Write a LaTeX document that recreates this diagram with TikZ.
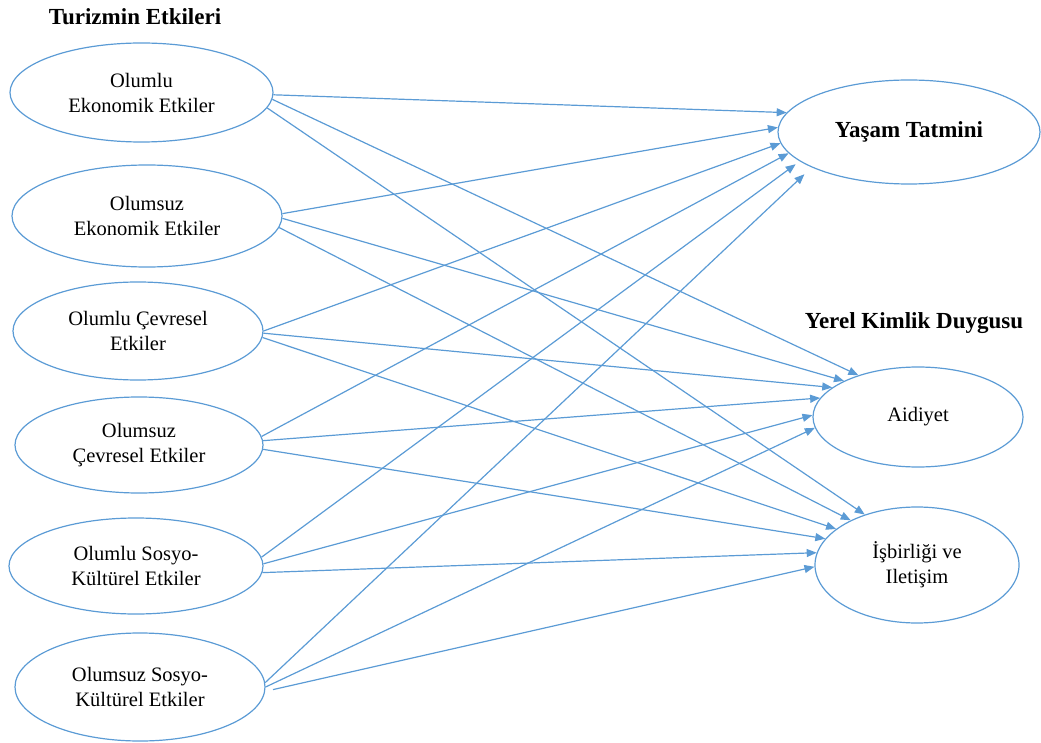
\documentclass[tikz,border=0pt]{standalone}
\usepackage{fontspec}
\setmainfont{Liberation Serif}
\usetikzlibrary{arrows.meta,shapes.geometric}
\definecolor{lb}{HTML}{5B9BD5}
\begin{document}
\begin{tikzpicture}[x=1pt,y=-1pt,
  ell/.style={draw=lb,line width=1.2pt,ellipse,inner sep=0pt,align=center,
    font=\fontsize{20.5}{25}\selectfont},
  conn/.style={draw=lb,line width=1.2pt,-{Triangle[length=10pt,width=8pt]}},
  head/.style={font=\fontsize{23}{27}\selectfont\bfseries}]
\useasboundingbox (0,0) rectangle (1041,743);
% source ellipses
\node[ell,minimum width=263pt,minimum height=99pt] (s1) at (141.5,92.5) {Olumlu\\Ekonomik Etkiler};
\node[ell,minimum width=270pt,minimum height=102pt] (s2) at (147,216) {Olumsuz\\Ekonomik Etkiler};
\node[ell,minimum width=250pt,minimum height=98pt] (s3) at (138,331) {Olumlu Çevresel\\Etkiler};
\node[ell,minimum width=248pt,minimum height=96pt] (s4) at (139,445) {Olumsuz\\Çevresel Etkiler};
\node[ell,minimum width=254pt,minimum height=96pt] (s5) at (136,566) {Olumlu Sosyo-\\Kültürel Etkiler};
\node[ell,minimum width=250pt,minimum height=108pt] (s6) at (140,687) {Olumsuz Sosyo-\\Kültürel Etkiler};
% target ellipses
\node[ell,minimum width=262pt,minimum height=104pt,font=\fontsize{23}{27}\selectfont\bfseries] (yt) at (909,132) {Yaşam Tatmini};
\node[ell,minimum width=210pt,minimum height=100pt] (ai) at (918,417) {Aidiyet};
\node[ell,minimum width=204pt,minimum height=116pt] (is) at (917,565) {İşbirliği ve\\Iletişim};
% headings
\node[head] (t1) at (135,17) {Turizmin Etkileri};
\node[head] (t2) at (914,323) {Yerel Kimlik Duygusu};
% connectors
\draw[conn] (s1.-1) -- (yt.171);
\draw[conn] (s1.-3) -- (ai.145);
\draw[conn] (s1.-7) -- (is.136);
\draw[conn] (s2.1) -- (yt.178);
\draw[conn] (s2.-1) -- (ai.154);
\draw[conn] (s2.-5) -- (is.146);
\draw[conn] (s3.0) -- (yt.185);
\draw[conn] (s3.-1) -- (ai.161);
\draw[conn] (s3.-3) -- (is.156);
\draw[conn] (s4.4) -- (yt.190);
\draw[conn] (s4.2) -- (ai.169);
\draw[conn] (s4.-2) -- (is.164);
\draw[conn,shorten >=5pt] (s5.4) -- (yt.195);
\draw[conn] (s5.1) -- (ai.179);
\draw[conn] (s5.-3) -- (is.173);
\draw[conn,shorten >=10pt] (s6.2) -- (yt.200);
\draw[conn] (s6.0) -- (ai.186);
\draw[conn,shorten <=8pt] (s6.-2) -- (is.181);
\end{tikzpicture}
\end{document}
